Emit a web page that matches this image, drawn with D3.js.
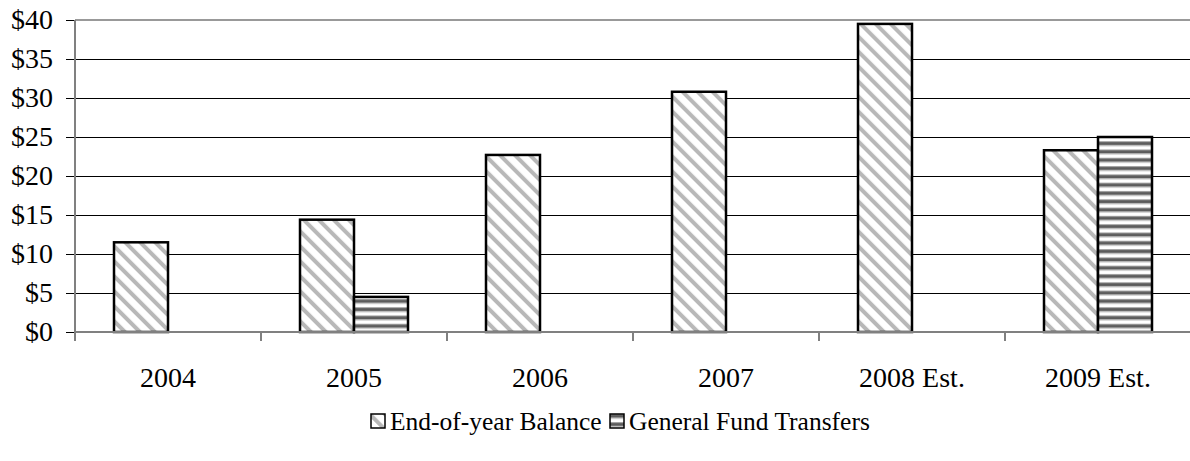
<!DOCTYPE html>
<html>
<head>
<meta charset="utf-8">
<script src="https://cdn.jsdelivr.net/npm/d3@7"></script>
<style>
  html, body { margin: 0; padding: 0; background: #fff; }
  svg { display: block; }
  svg text { font-family: "Liberation Serif", "Times New Roman", "DejaVu Serif", serif; fill: #000; }
</style>
</head>
<body>
<svg id="chart" width="1190" height="461"></svg>
<script>
// Categories and series (millions of dollars)
const categories = ["2004", "2005", "2006", "2007", "2008 Est.", "2009 Est."];
const seriesNames = ["End-of-year Balance", "General Fund Transfers"];
const balance = [11.5, 14.4, 22.7, 30.8, 39.5, 23.3];
const transfers = [0, 4.5, 0, 0, 0, 25.0];
const yTicks = [0, 5, 10, 15, 20, 25, 30, 35, 40];

const FONT = "Liberation Serif, Times New Roman, DejaVu Serif, serif";
const svg = d3.select("#chart");
const plot = { left: 75, right: 1191, top: 20, bottom: 332 };

// Fill patterns for the two series
const defs = svg.append("defs");
const diag = defs.append("pattern")
  .attr("id", "pat-balance")
  .attr("patternUnits", "userSpaceOnUse")
  .attr("width", 10.6).attr("height", 10.6)
  .attr("patternTransform", "rotate(-45)");
diag.append("rect").attr("width", 10.6).attr("height", 10.6).attr("fill", "#fff");
diag.append("rect").attr("x", 0).attr("width", 4).attr("height", 10.6).attr("fill", "#b8b8b8");

const horiz = defs.append("pattern")
  .attr("id", "pat-transfers")
  .attr("patternUnits", "userSpaceOnUse")
  .attr("width", 8).attr("height", 8.3);
horiz.append("rect").attr("width", 8).attr("height", 8.3).attr("fill", "#fff");
horiz.append("rect").attr("y", 0).attr("width", 8).attr("height", 1).attr("fill", "#a8a8a8");
horiz.append("rect").attr("y", 1).attr("width", 8).attr("height", 3).attr("fill", "#5c5c5c");
horiz.append("rect").attr("y", 4).attr("width", 8).attr("height", 1).attr("fill", "#a8a8a8");

const x0 = d3.scaleBand().domain(categories).range([plot.left, plot.right]).paddingInner(0).paddingOuter(0);
const groupPad = 39;
const x1 = d3.scaleBand().domain(seriesNames).range([groupPad, x0.bandwidth() - groupPad]);
const y = d3.scaleLinear().domain([0, 40]).range([plot.bottom, plot.top]);

// Horizontal gridlines
svg.append("g").selectAll("line")
  .data(yTicks.filter(d => d > 0 && d < 40))
  .join("line")
  .attr("x1", plot.left).attr("x2", plot.right)
  .attr("y1", d => Math.round(y(d)) + 0.5).attr("y2", d => Math.round(y(d)) + 0.5)
  .attr("stroke", "#000").attr("stroke-width", 1);

// Top border of plot area
svg.append("line")
  .attr("x1", plot.left).attr("x2", plot.right)
  .attr("y1", y(40)).attr("y2", y(40))
  .attr("stroke", "#999").attr("stroke-width", 2);

// Bars
const rows = categories.map((c, i) => ({ c, vals: [balance[i], transfers[i]] }));
const groups = svg.append("g").selectAll("g")
  .data(rows).join("g")
  .attr("transform", d => `translate(${x0(d.c)},0)`);
groups.selectAll("rect")
  .data(d => d.vals.map((v, j) => ({ v, s: seriesNames[j] })).filter(e => e.v > 0))
  .join("rect")
  .attr("x", d => x1(d.s))
  .attr("width", x1.bandwidth())
  .attr("y", d => y(d.v))
  .attr("height", d => y(0) - y(d.v))
  .attr("fill", d => d.s === seriesNames[0] ? "url(#pat-balance)" : "url(#pat-transfers)")
  .attr("stroke", "#000").attr("stroke-width", 2.5);

// Y axis
const yAxis = svg.append("g")
  .attr("transform", `translate(${plot.left},0)`)
  .call(d3.axisLeft(y).tickValues(yTicks).tickSize(9).tickPadding(13).tickFormat(d => "$" + d));
yAxis.attr("font-family", FONT).attr("font-size", 28);
yAxis.select(".domain").remove();
yAxis.selectAll(".tick line").attr("stroke", "#000").attr("stroke-width", 1);
yAxis.selectAll(".tick text").attr("fill", "#000");
svg.append("line")
  .attr("x1", plot.left).attr("x2", plot.left)
  .attr("y1", plot.top).attr("y2", plot.bottom + 9)
  .attr("stroke", "#808080").attr("stroke-width", 2);

// X axis
svg.append("line")
  .attr("x1", plot.left).attr("x2", plot.right)
  .attr("y1", plot.bottom).attr("y2", plot.bottom)
  .attr("stroke", "#808080").attr("stroke-width", 2);
svg.append("g").selectAll("line")
  .data(categories.slice(1))
  .join("line")
  .attr("x1", d => x0(d)).attr("x2", d => x0(d))
  .attr("y1", plot.bottom).attr("y2", plot.bottom + 9)
  .attr("stroke", "#808080").attr("stroke-width", 2);
svg.append("g").selectAll("text")
  .data(categories)
  .join("text")
  .attr("x", d => x0(d) + x0.bandwidth() / 2)
  .attr("y", 387)
  .attr("text-anchor", "middle")
  .attr("font-family", FONT)
  .attr("font-size", 28)
  .text(d => d);

// Legend
const legend = svg.append("g").attr("transform", "translate(0,422)");
const legendItems = [
  { name: seriesNames[0], fill: "url(#pat-balance)", x: 371 },
  { name: seriesNames[1], fill: "url(#pat-transfers)", x: 610 }
];
legendItems.forEach(it => {
  legend.append("rect")
    .attr("x", it.x).attr("y", -8).attr("width", 14).attr("height", 14)
    .attr("fill", it.fill).attr("stroke", "#000").attr("stroke-width", 1.5);
  legend.append("text")
    .attr("x", it.x + 19).attr("y", 8)
    .attr("font-family", FONT)
    .attr("font-size", 25.5)
    .text(it.name);
});
</script>
</body>
</html>
